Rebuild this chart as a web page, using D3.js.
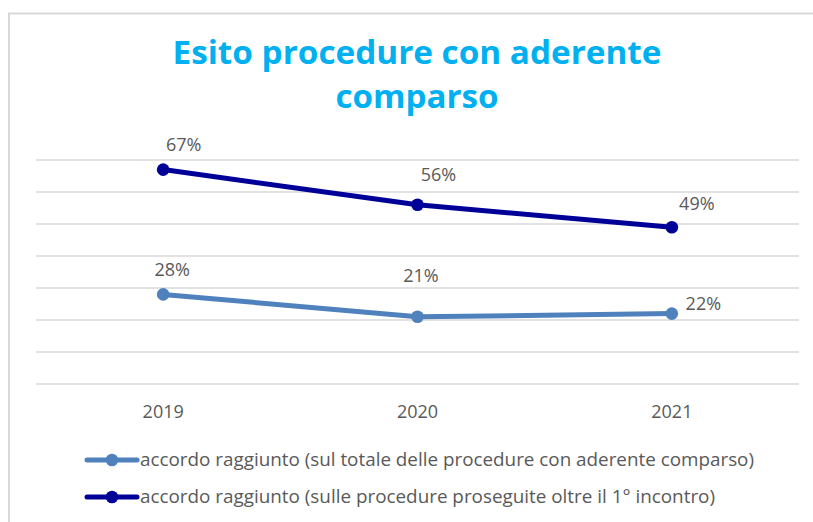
<!DOCTYPE html>
<html>
<head>
<meta charset="utf-8">
<script src="https://cdn.jsdelivr.net/npm/d3@7"></script>
<style>
  html, body { margin: 0; padding: 0; background: #ffffff; }
  svg { display: block; }
</style>
</head>
<body>
<svg id="chart" width="813" height="522"></svg>
<script>
// ---- data ----
const categories = ["2019", "2020", "2021"];
const seriesNames = [
  "accordo raggiunto (sul totale delle procedure con aderente comparso)",
  "accordo raggiunto (sulle procedure proseguite oltre il 1° incontro)"
];
const seriesTotale = [28, 21, 22];
const seriesProseguite = [67, 56, 49];
const yTicks = [0, 10, 20, 30, 40, 50, 60, 70];
const titleLines = ["Esito procedure con aderente", "comparso"];

// ---- layout (not data) ----
const colors = ["#4F81BD", "#000099"];
const labelOffsets = [
  [[9, -18], [3.5, -35], [31.5, -4]],
  [[20.5, -19], [21, -24], [25, -17]]
];

const svg = d3.select("#chart");

// frame
svg.append("rect").attr("x", 9).attr("y", 13.5).attr("width", 820).attr("height", 530)
  .attr("fill", "#fff").attr("stroke", "#d9d9d9").attr("stroke-width", 2);

// title
const titleBase = [64, 108];
const titleLen = [489, 163];
titleLines.forEach((t, i) => {
  svg.append("text")
    .attr("x", 417).attr("y", titleBase[i])
    .attr("text-anchor", "middle")
    .attr("font-family", "'Open Sans', 'Noto Sans', sans-serif")
    .attr("font-weight", "bold")
    .attr("font-size", 32)
    .attr("fill", "#00B0F0")
    .attr("textLength", titleLen[i])
    .attr("lengthAdjust", "spacingAndGlyphs")
    .text(t);
});

const x = d3.scaleBand().domain(categories).range([36, 799]);
const y = d3.scaleLinear().domain([0, 70]).range([384, 160]);

// gridlines
svg.append("g").selectAll("line").data(yTicks).join("line")
  .attr("x1", 36).attr("x2", 799)
  .attr("y1", d => y(d)).attr("y2", d => y(d))
  .attr("stroke", "#d9d9d9").attr("stroke-width", 1.4);

// x axis labels
const xAxis = d3.axisBottom(x).tickSize(0).tickPadding(0);
const gx = svg.append("g").attr("transform", "translate(0,405)").call(xAxis);
gx.select(".domain").remove();
gx.selectAll("text")
  .attr("font-family", "'Open Sans', 'Liberation Sans', sans-serif")
  .attr("font-size", 18)
  .attr("fill", "#595959")
  .attr("dy", "0.71em");

const cx = d => x(d) + x.bandwidth() / 2;
const allSeries = [seriesTotale, seriesProseguite];

allSeries.forEach((vals, si) => {
  const pts = vals.map((v, i) => ({ c: categories[i], v }));
  const line = d3.line().x(d => cx(d.c)).y(d => y(d.v));
  svg.append("path").datum(pts)
    .attr("d", line).attr("fill", "none")
    .attr("stroke", colors[si]).attr("stroke-width", 5)
    .attr("stroke-linejoin", "round").attr("stroke-linecap", "round");
  svg.append("g").selectAll("circle").data(pts).join("circle")
    .attr("cx", d => cx(d.c)).attr("cy", d => y(d.v))
    .attr("r", 6.3).attr("fill", colors[si]);
  svg.append("g").selectAll("text").data(pts).join("text")
    .attr("x", (d, i) => cx(d.c) + labelOffsets[si][i][0])
    .attr("y", (d, i) => y(d.v) + labelOffsets[si][i][1])
    .attr("text-anchor", "middle")
    .attr("font-family", "'Open Sans', 'Liberation Sans', sans-serif")
    .attr("font-size", 18)
    .attr("fill", "#595959")
    .text(d => d.v + "%");
});

// legend
const legY = [460, 497];
const legBase = [466, 502.5];
const legLen = [614, 575];
seriesNames.forEach((name, i) => {
  const g = svg.append("g");
  g.append("line").attr("x1", 87).attr("x2", 137)
    .attr("y1", legY[i]).attr("y2", legY[i])
    .attr("stroke", colors[i]).attr("stroke-width", 5).attr("stroke-linecap", "round");
  g.append("circle").attr("cx", 112).attr("cy", legY[i]).attr("r", 6.3).attr("fill", colors[i]);
  g.append("text").attr("x", 140).attr("y", legBase[i])
    .attr("font-family", "'Open Sans', 'Liberation Sans', sans-serif")
    .attr("font-size", 17.5)
    .attr("fill", "#595959")
    .attr("textLength", legLen[i])
    .attr("lengthAdjust", "spacingAndGlyphs")
    .text(name);
});
</script>
</body>
</html>
